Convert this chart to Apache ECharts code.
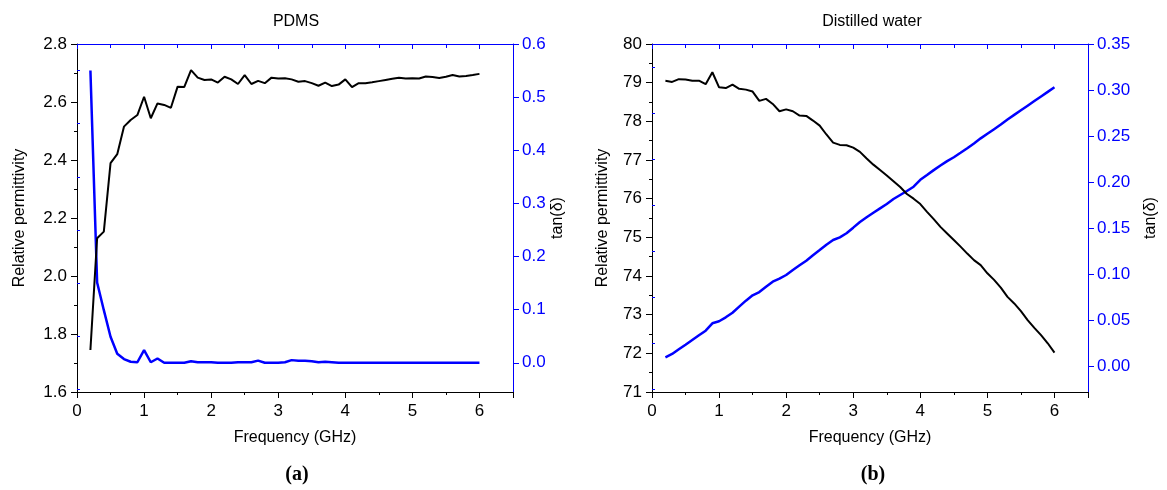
<!DOCTYPE html>
<html>
<head>
<meta charset="utf-8">
<script src="https://cdn.jsdelivr.net/npm/echarts@6/dist/echarts.min.js"></script>
<style>
  html, body { margin: 0; padding: 0; background: #fff; }
  #chart { width: 1167px; height: 490px; }
</style>
</head>
<body>
<div id="chart"></div>
<script>
// 频率 (GHz)
var freq = [0.2, 0.3, 0.4, 0.5, 0.6, 0.7, 0.8, 0.9, 1.0, 1.1, 1.2, 1.3, 1.4, 1.5, 1.6, 1.7, 1.8, 1.9, 2.0,
  2.1, 2.2, 2.3, 2.4, 2.5, 2.6, 2.7, 2.8, 2.9, 3.0, 3.1, 3.2, 3.3, 3.4, 3.5, 3.6, 3.7, 3.8, 3.9, 4.0,
  4.1, 4.2, 4.3, 4.4, 4.5, 4.6, 4.7, 4.8, 4.9, 5.0, 5.1, 5.2, 5.3, 5.4, 5.5, 5.6, 5.7, 5.8, 5.9, 6.0];

// PDMS
var pdmsEps = [1.745, 2.130, 2.153, 2.389, 2.420, 2.515, 2.538, 2.555, 2.618, 2.544, 2.595, 2.590, 2.580,
  2.653, 2.652, 2.710, 2.684, 2.676, 2.678, 2.667, 2.687, 2.678, 2.662, 2.693, 2.662, 2.673, 2.665,
  2.684, 2.681, 2.682, 2.678, 2.670, 2.672, 2.665, 2.656, 2.667, 2.655, 2.660, 2.678, 2.651, 2.665,
  2.665, 2.668, 2.672, 2.676, 2.680, 2.684, 2.681, 2.682, 2.681, 2.688, 2.686, 2.683, 2.687, 2.693,
  2.688, 2.690, 2.693, 2.697];
var pdmsTan = [0.550, 0.151, 0.099, 0.049, 0.017, 0.007, 0.002, 0.001, 0.024, 0.001, 0.008, 0.000, 0.000,
  0.000, 0.000, 0.003, 0.001, 0.001, 0.001, 0.000, 0.000, 0.000, 0.001, 0.001, 0.001, 0.004, 0.000,
  0.000, 0.000, 0.001, 0.005, 0.004, 0.004, 0.003, 0.001, 0.002, 0.001, 0.000, 0.000, 0.000, 0.000,
  0.000, 0.000, 0.000, 0.000, 0.000, 0.000, 0.000, 0.000, 0.000, 0.000, 0.000, 0.000, 0.000, 0.000,
  0.000, 0.000, 0.000, 0.000];

// Distilled water
var waterEps = [79.05, 79.02, 79.09, 79.08, 79.05, 79.05, 78.96, 79.27, 78.88, 78.86, 78.95, 78.84, 78.82,
  78.77, 78.53, 78.58, 78.45, 78.26, 78.31, 78.26, 78.15, 78.14, 78.02, 77.89, 77.66, 77.45, 77.39,
  77.38, 77.32, 77.21, 77.04, 76.88, 76.74, 76.60, 76.45, 76.30, 76.12, 76.00, 75.86, 75.66, 75.47,
  75.27, 75.10, 74.93, 74.76, 74.58, 74.41, 74.28, 74.07, 73.90, 73.70, 73.46, 73.29, 73.09, 72.86,
  72.66, 72.47, 72.26, 72.02];
var waterTan = [0.0097, 0.0133, 0.0184, 0.0234, 0.0285, 0.0336, 0.0386, 0.0466, 0.0488, 0.0531, 0.0581,
  0.0647, 0.0712, 0.0770, 0.0806, 0.0864, 0.0918, 0.0951, 0.0991, 0.1045, 0.1096, 0.1146, 0.1205,
  0.1262, 0.1320, 0.1371, 0.1400, 0.1444, 0.1505, 0.1567, 0.1618, 0.1667, 0.1715, 0.1762, 0.1816,
  0.1860, 0.1903, 0.1950, 0.2025, 0.2077, 0.2130, 0.2180, 0.2228, 0.2270, 0.2318, 0.2368, 0.2420,
  0.2475, 0.2525, 0.2575, 0.2625, 0.2680, 0.2730, 0.2780, 0.2830, 0.2880, 0.2930, 0.2980, 0.3030];

// 右轴刻度
var pdmsTanTicks = [0, 0.1, 0.2, 0.3, 0.4, 0.5, 0.6];
var pdmsTanMinor = [-0.05, 0.05, 0.15, 0.25, 0.35, 0.45, 0.55];
var waterTanTicks = [0, 0.05, 0.10, 0.15, 0.20, 0.25, 0.30, 0.35];
var waterTanMinor = [-0.025, 0.025, 0.075, 0.125, 0.175, 0.225, 0.275, 0.325];

function pairs(xs, ys) {
  return xs.map(function (x, i) { return [x, ys[i]]; });
}

var FONT = 'Liberation Sans, Arial, sans-serif';
var BLUE = '#0000ff';
var TICK_FS = 17;
var NAME_FS = 16;

var myChart = echarts.init(document.getElementById('chart'));

function bottomAxis(g) {
  return {
    type: 'value', gridIndex: g, position: 'bottom', min: 0, max: 6.5, interval: 1,
    name: 'Frequency (GHz)', nameLocation: 'middle', nameGap: 38,
    nameTextStyle: { fontFamily: FONT, fontSize: NAME_FS, color: '#000' },
    axisLine: { onZero: false, lineStyle: { color: '#000', width: 1 } },
    axisTick: { length: 6, lineStyle: { color: '#000' } },
    minorTick: { show: true, splitNumber: 2, length: 3, lineStyle: { color: '#000' } },
    axisLabel: { fontFamily: FONT, fontSize: TICK_FS, color: '#000', showMaxLabel: false, margin: 11 },
    splitLine: { show: false }
  };
}
function topAxis(g) {
  return {
    type: 'value', gridIndex: g, position: 'top', min: 0, max: 6.5, interval: 1,
    axisLine: { onZero: false, lineStyle: { color: BLUE, width: 1 } },
    axisTick: { inside: true, length: 5, lineStyle: { color: BLUE } },
    minorTick: { show: true, splitNumber: 2, length: 4, lineStyle: { color: BLUE } },
    axisLabel: { show: false },
    splitLine: { show: false }
  };
}

var option = {
  animation: false,
  backgroundColor: '#fff',
  title: [
    { text: 'PDMS', left: 291, top: 9, textAlign: 'center',
      textStyle: { fontFamily: FONT, fontSize: 16, fontWeight: 'normal', color: '#000' } },
    { text: 'Distilled water', left: 867, top: 9, textAlign: 'center',
      textStyle: { fontFamily: FONT, fontSize: 16, fontWeight: 'normal', color: '#000' } },
    { text: '{p|(}{b|a}{p|)}', left: 292, top: 460, textAlign: 'center',
      textStyle: { rich: {
        p: { fontFamily: 'Liberation Serif, serif', fontSize: 20, color: '#000' },
        b: { fontFamily: 'Liberation Serif, serif', fontSize: 20, fontWeight: 'bold', color: '#000' } } } },
    { text: '{p|(}{b|b}{p|)}', left: 868, top: 460, textAlign: 'center',
      textStyle: { rich: {
        p: { fontFamily: 'Liberation Serif, serif', fontSize: 20, color: '#000' },
        b: { fontFamily: 'Liberation Serif, serif', fontSize: 20, fontWeight: 'bold', color: '#000' } } } }
  ],
  grid: [
    { left: 77, top: 44, width: 436, height: 348 },
    { left: 652, top: 44, width: 436, height: 348 }
  ],
  xAxis: [bottomAxis(0), topAxis(0), bottomAxis(1), topAxis(1)],
  yAxis: [
    // 0: PDMS 介电常数
    { type: 'value', gridIndex: 0, position: 'left', min: 1.6, max: 2.8, interval: 0.2,
      name: 'Relative permittivity', nameLocation: 'middle', nameGap: 49,
      nameTextStyle: { fontFamily: FONT, fontSize: NAME_FS, color: '#000' },
      axisLine: { show: true, onZero: false, lineStyle: { color: '#000' } },
      axisTick: { length: 6, lineStyle: { color: '#000' } },
      minorTick: { show: true, splitNumber: 2, length: 3, lineStyle: { color: '#000' } },
      axisLabel: { fontFamily: FONT, fontSize: TICK_FS, color: '#000', margin: 10,
        formatter: function (v) { return v.toFixed(1); } },
      splitLine: { show: false } },
    // 1: PDMS tan
    { type: 'value', gridIndex: 0, position: 'right', min: -0.055, max: 0.6,
      name: 'tan(δ)', nameLocation: 'middle', nameGap: 30, nameRotate: 90,
      nameTextStyle: { fontFamily: FONT, fontSize: NAME_FS, color: '#000' },
      axisLine: { show: true, onZero: false, lineStyle: { color: BLUE } },
      axisTick: { length: 6, customValues: pdmsTanTicks, lineStyle: { color: BLUE } },
      axisLabel: { fontFamily: FONT, fontSize: TICK_FS, color: BLUE, margin: 9, customValues: pdmsTanTicks,
        formatter: function (v) { return v.toFixed(1); } },
      splitLine: { show: false } },
    // 2: PDMS tan 次刻度
    { type: 'value', gridIndex: 0, position: 'right', min: -0.055, max: 0.6,
      axisLine: { show: false },
      axisTick: { length: 3, customValues: pdmsTanMinor, lineStyle: { color: BLUE } },
      axisLabel: { show: false, customValues: pdmsTanMinor },
      splitLine: { show: false } },
    // 3: water 介电常数
    { type: 'value', gridIndex: 1, position: 'left', min: 71, max: 80, interval: 1,
      name: 'Relative permittivity', nameLocation: 'middle', nameGap: 41,
      nameTextStyle: { fontFamily: FONT, fontSize: NAME_FS, color: '#000' },
      axisLine: { show: true, onZero: false, lineStyle: { color: '#000' } },
      axisTick: { length: 6, lineStyle: { color: '#000' } },
      minorTick: { show: true, splitNumber: 2, length: 3, lineStyle: { color: '#000' } },
      axisLabel: { fontFamily: FONT, fontSize: TICK_FS, color: '#000', margin: 10 },
      splitLine: { show: false } },
    // 4: water tan
    { type: 'value', gridIndex: 1, position: 'right', min: -0.028, max: 0.35,
      name: 'tan(δ)', nameLocation: 'middle', nameGap: 55, nameRotate: 90,
      nameTextStyle: { fontFamily: FONT, fontSize: NAME_FS, color: '#000' },
      axisLine: { show: true, onZero: false, lineStyle: { color: BLUE } },
      axisTick: { length: 6, customValues: waterTanTicks, lineStyle: { color: BLUE } },
      axisLabel: { fontFamily: FONT, fontSize: TICK_FS, color: BLUE, margin: 9, customValues: waterTanTicks,
        formatter: function (v) { return v.toFixed(2); } },
      splitLine: { show: false } },
    // 5: water tan 次刻度
    { type: 'value', gridIndex: 1, position: 'right', min: -0.028, max: 0.35,
      axisLine: { show: false },
      axisTick: { length: 3, customValues: waterTanMinor, lineStyle: { color: BLUE } },
      axisLabel: { show: false, customValues: waterTanMinor },
      splitLine: { show: false } }
  ],
  series: [
    { type: 'line', xAxisIndex: 0, yAxisIndex: 0, data: pairs(freq, pdmsEps),
      symbol: 'none', lineStyle: { color: '#000', width: 2 }, z: 3 },
    { type: 'line', xAxisIndex: 0, yAxisIndex: 1, data: pairs(freq, pdmsTan),
      symbol: 'none', lineStyle: { color: BLUE, width: 2.5 }, z: 2 },
    { type: 'line', xAxisIndex: 2, yAxisIndex: 3, data: pairs(freq, waterEps),
      symbol: 'none', lineStyle: { color: '#000', width: 2 }, z: 3 },
    { type: 'line', xAxisIndex: 2, yAxisIndex: 4, data: pairs(freq, waterTan),
      symbol: 'none', lineStyle: { color: BLUE, width: 2.5 }, z: 2 }
  ]
};

myChart.setOption(option);
</script>
</body>
</html>
